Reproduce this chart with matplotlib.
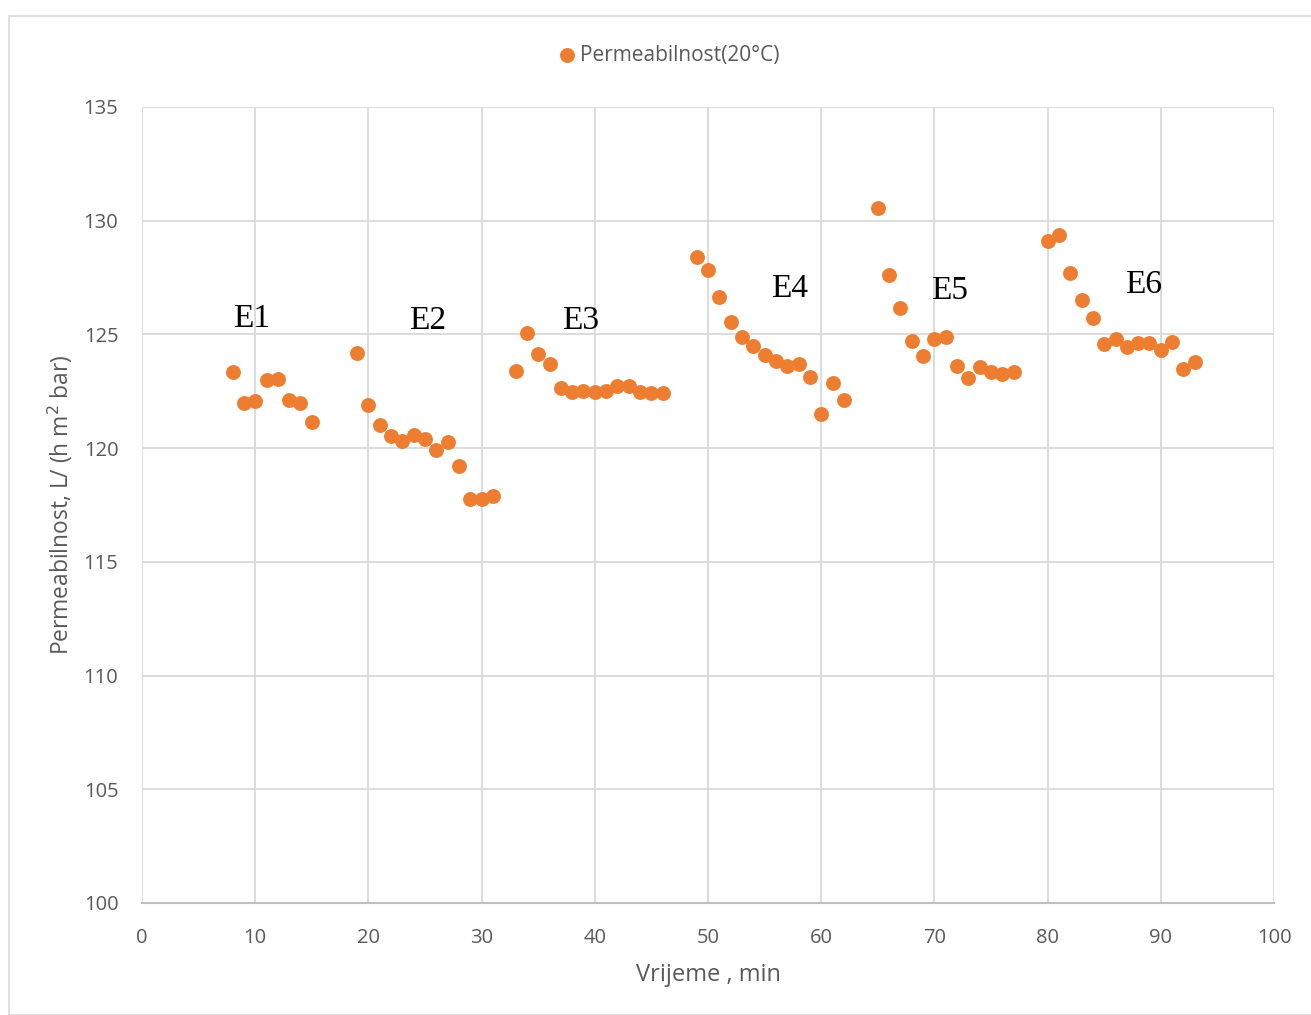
import matplotlib
matplotlib.use("Agg")
import matplotlib.pyplot as plt
from matplotlib.patches import Rectangle

time_min = [8, 9, 10, 11, 12, 13, 14, 15,
            19, 20, 21, 22, 23, 24, 25, 26, 27, 28, 29, 30, 31,
            33, 34, 35, 36, 37, 38, 39, 40, 41, 42, 43, 44, 45, 46,
            49, 50, 51, 52, 53, 54, 55, 56, 57, 58, 59, 60, 61, 62,
            65, 66, 67, 68, 69, 70, 71, 72, 73, 74, 75, 76, 77,
            80, 81, 82, 83, 84, 85, 86, 87, 88, 89, 90, 91, 92, 93]
permeability = [123.35, 121.99, 122.07, 123.0, 123.04, 122.12, 121.99, 121.15,
                124.18, 121.9, 121.02, 120.53, 120.31, 120.58, 120.40, 119.92, 120.27, 119.21, 117.76, 117.76, 117.90,
                123.39, 125.06, 124.14, 123.70, 122.64, 122.47, 122.51, 122.47, 122.51, 122.73, 122.73, 122.47, 122.42, 122.42,
                128.4, 127.83, 126.65, 125.55, 124.89, 124.49, 124.10, 123.83, 123.61, 123.70, 123.13, 121.50, 122.86, 122.12,
                130.56, 127.61, 126.16, 124.71, 124.05, 124.80, 124.89, 123.61, 123.08, 123.57, 123.35, 123.26, 123.35,
                129.11, 129.37, 127.70, 126.51, 125.72, 124.58, 124.80, 124.45, 124.62, 124.62, 124.32, 124.67, 123.48, 123.79]
series_name = "Permeabilnost(20°C)"
group_labels = ["E1", "E2", "E3", "E4", "E5", "E6"]
group_label_x = [9.7, 25.2, 38.7, 57.2, 71.3, 88.5]
group_label_y = [125.7, 125.6, 125.6, 127.0, 126.9, 127.2]
x_ticks = [0, 10, 20, 30, 40, 50, 60, 70, 80, 90, 100]
y_ticks = [100, 105, 110, 115, 120, 125, 130, 135]

plt.rcParams['font.family'] = ['Open Sans', 'DejaVu Sans']

fig = plt.figure(figsize=(13.11, 10.15), dpi=100)
fig.patches.append(Rectangle((9/1311, 0), 1.0, 1 - 16/1015, transform=fig.transFigure,
                             fill=False, edgecolor='#d9d9d9', linewidth=1.2))
ax = fig.add_axes([142/1311, 1 - 903/1015, (1274 - 142)/1311, (903 - 107)/1015])

ax.scatter(time_min, permeability, s=115, color='#ED7D31', zorder=3, label=series_name, linewidths=0)

ax.set_xlim(0, 100)
ax.set_ylim(100, 135)
ax.set_xticks(x_ticks)
ax.set_yticks(y_ticks)
ax.grid(True, color='#d9d9d9', linewidth=1.3, zorder=0)
ax.set_axisbelow(True)
for s in ['top', 'right', 'left']:
    ax.spines[s].set_visible(False)
ax.spines['bottom'].set_color('#bfbfbf')
ax.spines['bottom'].set_linewidth(1.5)
ax.tick_params(axis='both', length=0, labelsize=14.5, colors='#595959')
ax.tick_params(axis='x', pad=18)
ax.tick_params(axis='y', pad=17)

for lab, lx, ly in zip(group_labels, group_label_x, group_label_y):
    ax.text(lx, ly, lab, fontsize=24, family='Liberation Serif', ha='center', va='center', color='black')

ax.set_xlabel("Vrijeme , min", fontsize=17, color='#595959')
ax.set_ylabel("Permeabilnost, L/ (h m$^{2}$ bar)", fontsize=16.4, color='#595959')
ax.xaxis.set_label_coords(0.5, (903 - 975) / 796)
ax.xaxis.label.set_va('center')
ax.yaxis.set_label_coords((60 - 142) / 1132, (903 - 505) / 796)
ax.yaxis.label.set_va('center')

leg = fig.legend(loc='center', bbox_to_anchor=(667/1311, 1 - 55/1015), frameon=False,
                 fontsize=15, handletextpad=0.0, handlelength=1.2, markerscale=1.0, borderaxespad=0)
for t in leg.get_texts():
    t.set_color('#595959')

fig.savefig("out.png", dpi=100)
